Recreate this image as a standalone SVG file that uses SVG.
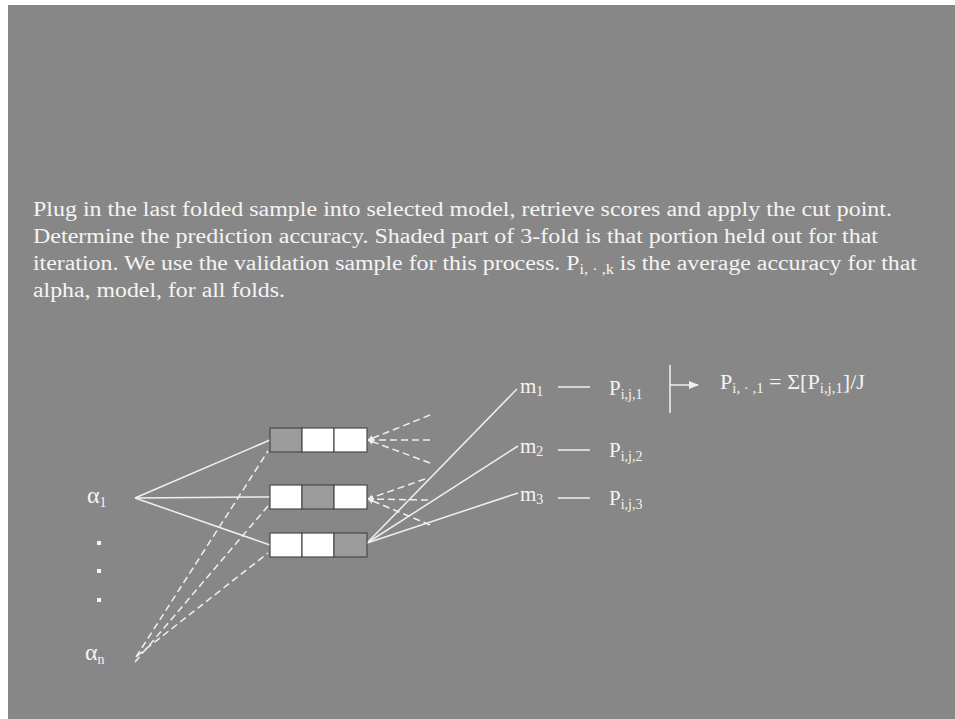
<svg xmlns="http://www.w3.org/2000/svg" width="955" height="719" viewBox="0 0 955 719">
<defs>
<style>
.t{font-family:"Liberation Serif","Times New Roman",serif;fill:#f4f4f4;font-size:21px}
.p{font-size:20.5px}
.a{font-size:24px}
.s{font-size:14px}
.ln{stroke:#f0f0f0;stroke-width:1.5;fill:none}
.ds{stroke:#f0f0f0;stroke-width:1.5;fill:none;stroke-dasharray:7 4}
.cw{fill:#ffffff;stroke:#4a4a4a;stroke-width:1.2}
.cg{fill:#9c9c9c;stroke:#4a4a4a;stroke-width:1.2}
</style>
<marker id="ah" viewBox="0 0 10 10" refX="9" refY="5" markerWidth="6" markerHeight="6" orient="auto" markerUnits="userSpaceOnUse"><path d="M0,0 L10,5 L0,10 z" fill="#f0f0f0"/></marker>
<marker id="ah2" viewBox="0 0 10 10" refX="9" refY="5" markerWidth="10" markerHeight="10" orient="auto" markerUnits="userSpaceOnUse"><path d="M0,1 L10,5 L0,9 z" fill="#f0f0f0"/></marker>
</defs>
<rect x="0" y="0" width="955" height="719" fill="#ffffff"/>
<rect x="8" y="5" width="947" height="714" fill="#878787"/>

<g id="paragraph">
<text class="t p" x="33" y="216" textLength="859" lengthAdjust="spacingAndGlyphs">Plug in the last folded sample into selected model, retrieve scores and apply the cut point.</text>
<text class="t p" x="33" y="243" textLength="845" lengthAdjust="spacingAndGlyphs">Determine the prediction accuracy. Shaded part of 3-fold is that portion held out for that</text>
<text class="t p" x="33" y="270" textLength="884" lengthAdjust="spacingAndGlyphs">iteration. We use the validation sample for this process. P<tspan class="s" dy="4">i, · ,k</tspan><tspan dy="-4"> is the average accuracy for that</tspan></text>
<text class="t p" x="33" y="297" textLength="252" lengthAdjust="spacingAndGlyphs">alpha, model, for all folds.</text>
</g>

<g id="connectors">
<line class="ln" x1="135" y1="498" x2="270" y2="440"/>
<line class="ln" x1="135" y1="498" x2="270" y2="497"/>
<line class="ln" x1="135" y1="498" x2="270" y2="545"/>
<line class="ds" x1="136" y1="657" x2="268" y2="451"/>
<line class="ds" x1="135" y1="662" x2="268" y2="506"/>
<line class="ds" x1="137" y1="656" x2="268" y2="553"/>
<line class="ds" x1="430" y1="415" x2="368" y2="440" marker-end="url(#ah)"/>
<line class="ds" x1="430" y1="440" x2="368" y2="440" marker-end="url(#ah)"/>
<line class="ds" x1="430" y1="463" x2="368" y2="440" marker-end="url(#ah)"/>
<line class="ds" x1="425" y1="479" x2="368" y2="499" marker-end="url(#ah)"/>
<line class="ds" x1="428" y1="500" x2="368" y2="499" marker-end="url(#ah)"/>
<line class="ds" x1="430" y1="525" x2="368" y2="499" marker-end="url(#ah)"/>
<line class="ln" x1="367" y1="543" x2="517" y2="389"/>
<line class="ln" x1="367" y1="543" x2="518" y2="446"/>
<line class="ln" x1="367" y1="543" x2="518" y2="493"/>
<line class="ln" x1="558" y1="387" x2="590" y2="387"/>
<line class="ln" x1="558" y1="450" x2="590" y2="450"/>
<line class="ln" x1="558" y1="498" x2="590" y2="498"/>
<line class="ln" x1="670" y1="365" x2="670" y2="413"/>
<line class="ln" x1="670" y1="385" x2="698" y2="385" marker-end="url(#ah2)"/>
</g>

<g id="fold1">
<rect class="cg" x="270" y="428" width="32" height="24"/>
<rect class="cw" x="302" y="428" width="32" height="24"/>
<rect class="cw" x="334" y="428" width="33" height="24"/>
</g>
<g id="fold2">
<rect class="cw" x="270" y="485" width="32" height="24"/>
<rect class="cg" x="302" y="485" width="32" height="24"/>
<rect class="cw" x="334" y="485" width="33" height="24"/>
</g>
<g id="fold3">
<rect class="cw" x="270" y="533" width="32" height="24"/>
<rect class="cw" x="302" y="533" width="32" height="24"/>
<rect class="cg" x="334" y="533" width="33" height="24"/>
</g>

<g id="alpha1"><text class="t a" x="87" y="503">α<tspan class="s" dy="4">1</tspan></text></g>
<g id="dots">
<rect x="97" y="541" width="4" height="4" fill="#f4f4f4"/>
<rect x="97" y="569" width="4" height="4" fill="#f4f4f4"/>
<rect x="97" y="598" width="4" height="4" fill="#f4f4f4"/>
</g>
<g id="alphan"><text class="t a" x="85" y="660">α<tspan class="s" dy="4">n</tspan></text></g>

<g id="m1"><text class="t" x="520" y="393">m<tspan class="s" dy="3">1</tspan></text></g>
<g id="m2"><text class="t" x="520" y="453">m<tspan class="s" dy="3">2</tspan></text></g>
<g id="m3"><text class="t" x="520" y="501">m<tspan class="s" dy="3">3</tspan></text></g>

<g id="p1"><text class="t" x="609" y="395">P<tspan class="s" dy="4">i,j,1</tspan></text></g>
<g id="p2"><text class="t" x="609" y="457">P<tspan class="s" dy="4">i,j,2</tspan></text></g>
<g id="p3"><text class="t" x="609" y="505">P<tspan class="s" dy="4">i,j,3</tspan></text></g>

<g id="formula"><text class="t" x="720" y="389" textLength="145" lengthAdjust="spacingAndGlyphs">P<tspan class="s" dy="4">i, · ,1</tspan><tspan dy="-4"> = Σ[P</tspan><tspan class="s" dy="4">i,j,1</tspan><tspan dy="-4">]/J</tspan></text></g>
</svg>
